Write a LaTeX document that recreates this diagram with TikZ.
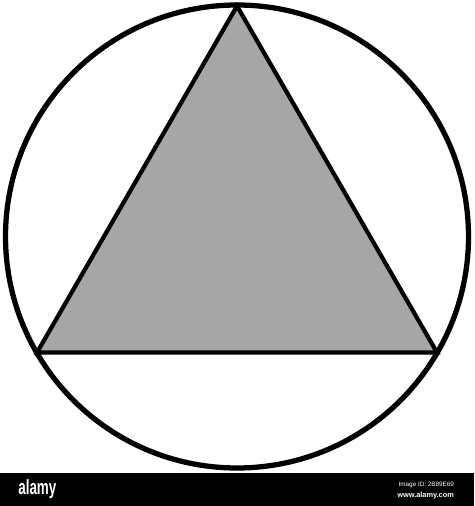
\documentclass[tikz,border=0pt]{standalone}
\usepackage{fontspec}
\setsansfont{Liberation Sans}
\usetikzlibrary{positioning}
\definecolor{trigray}{RGB}{166,166,166}

\begin{document}
\begin{tikzpicture}[x=0.02cm, y=-0.02cm]
\useasboundingbox (0,0) rectangle (474,506);
\fill[white] (0,0) rectangle (474,506);
\coordinate (c) at (237,236.5);
\coordinate (top) at (237,6);
\coordinate (left) at (37,352.5);
\coordinate (right) at (437,352.5);
\draw [draw, line width=2.4pt, fill=trigray] (top) -- (left) -- (right) -- cycle;
\draw [line width=3pt] (c) circle [radius=231.5];
% bottom bar
\fill[black] (0,473) rectangle (474,506);
\node[white, font=\sffamily\bfseries\fontsize{9}{9}\selectfont, anchor=west, inner sep=0pt, xscale=0.85, yscale=1.3] (logo) at (18,489) {alamy};
\node[white, font=\sffamily\fontsize{3.6}{4}\selectfont, anchor=east, inner sep=1pt] (imgid) at (456,485) {Image ID: 2B89E69};
\node[white, font=\sffamily\bfseries\fontsize{4.2}{5}\selectfont, below=0pt of imgid.south east, anchor=north east, inner sep=1pt] (www) {www.alamy.com};
\end{tikzpicture}
\end{document}
